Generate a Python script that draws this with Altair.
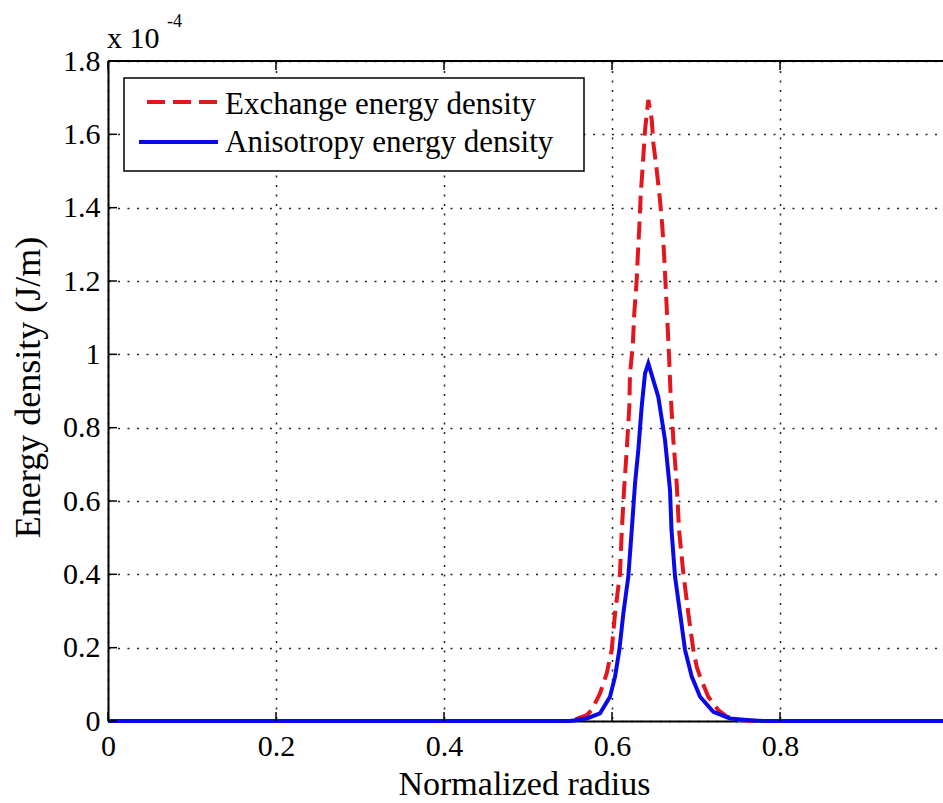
import altair as alt
import pandas as pd

# ---------------- data ----------------
series_names = ["Exchange energy density", "Anisotropy energy density"]

exchange_x = [0.0, 0.550, 0.5699, 0.5758, 0.5857, 0.5937, 0.5996, 0.6036, 0.6095, 0.6115,
              0.6143, 0.6175, 0.6206, 0.6214, 0.6246, 0.6265, 0.6294, 0.6306, 0.6325, 0.6342,
              0.6365, 0.6393, 0.6432, 0.6473, 0.6492, 0.6532, 0.6571, 0.6599, 0.6619, 0.6639,
              0.6658, 0.6679, 0.6695, 0.6730, 0.6770, 0.6798, 0.6849, 0.6908, 0.6968, 0.7008,
              0.7048, 0.7146, 0.7265, 0.7365, 0.7524, 0.770, 1.0]
exchange_y = [0.0, 0.0, 0.016, 0.030, 0.075, 0.130, 0.194, 0.294, 0.403, 0.512,
              0.630, 0.739, 0.857, 0.948, 1.021, 1.112, 1.203, 1.266, 1.348, 1.439,
              1.512, 1.612, 1.694, 1.639, 1.576, 1.503, 1.421, 1.348, 1.275, 1.184,
              1.094, 0.994, 0.903, 0.766, 0.648, 0.521, 0.403, 0.294, 0.194, 0.148,
              0.121, 0.066, 0.030, 0.012, 0.002, 0.0, 0.0]

aniso_x = [0.0, 0.550, 0.5699, 0.5857, 0.5976, 0.6036, 0.6087, 0.6135, 0.6194, 0.6235,
           0.6274, 0.6313, 0.6353, 0.6393, 0.6432, 0.6551, 0.6631, 0.6690, 0.6708, 0.6750,
           0.6810, 0.6869, 0.6949, 0.7048, 0.7206, 0.7405, 0.7604, 0.780, 1.0]
aniso_y = [0.0, 0.0, 0.007, 0.021, 0.066, 0.121, 0.194, 0.294, 0.394, 0.521,
           0.648, 0.739, 0.857, 0.948, 0.975, 0.884, 0.766, 0.630, 0.521, 0.394,
           0.294, 0.194, 0.121, 0.066, 0.025, 0.007, 0.003, 0.0, 0.0]

x_ticks = [0, 0.2, 0.4, 0.6, 0.8]
y_ticks = [0, 0.2, 0.4, 0.6, 0.8, 1.0, 1.2, 1.4, 1.6, 1.8]
x_domain = [0, 0.994]
y_domain = [0, 1.8]

# ---------------- styling ----------------
W, H = 835, 660
FONT = "Liberation Serif"
RED = "#e3161e"
BLUE = "#0a0ae8"
DASH = [18, 8]

ex_df = pd.DataFrame({"r": exchange_x, "e": exchange_y})
an_df = pd.DataFrame({"r": aniso_x, "e": aniso_y})
xt_df = pd.DataFrame({"r": x_ticks})
yt_df = pd.DataFrame({"e": y_ticks})
one = pd.DataFrame({"k": [0]})

xscale = alt.Scale(domain=x_domain, nice=False, zero=False)
yscale = alt.Scale(domain=y_domain, nice=False, zero=False)

x_axis = alt.Axis(
    values=x_ticks, format=".1~f", ticks=False, labelFlush=False, labelOverlap=False,
    labelFont=FONT, labelFontSize=30, labelColor="black", labelPadding=10,
    domainColor="black", domainWidth=2,
    grid=True, gridDash=[2, 7.5], gridColor="#222222", gridWidth=1.5,
    title="Normalized radius", titleFont=FONT, titleFontSize=34, titleFontWeight="normal",
    titleColor="black", titleBaseline="alphabetic", titleAlign="center", titleX=416, titleY=73,
)
y_axis = alt.Axis(
    values=y_ticks, format=".1~f", ticks=False, labelFlush=False, labelOverlap=False,
    labelFont=FONT, labelFontSize=30, labelColor="black", labelPadding=8,
    domainColor="black", domainWidth=2,
    grid=True, gridDash=[2, 7.5], gridColor="#222222", gridWidth=1.5,
    title="Energy density (J/m)", titleFont=FONT, titleFontSize=36, titleFontWeight="normal",
    titleColor="black", titleBaseline="alphabetic", titleAlign="center", titleAngle=270,
    titleX=-69, titleY=326,
)

X = alt.X("r:Q", scale=xscale, axis=x_axis)
Y = alt.Y("e:Q", scale=yscale, axis=y_axis)

red = alt.Chart(ex_df).mark_line(color=RED, strokeWidth=4, strokeDash=DASH).encode(x=X, y=Y)
blue = alt.Chart(an_df).mark_line(color=BLUE, strokeWidth=4).encode(x=X, y=Y)

top_border = alt.Chart(one).mark_rule(color="black", strokeWidth=2).encode(
    x=alt.value(0), x2=alt.value(W), y=alt.value(0))
top_ticks = alt.Chart(xt_df).mark_rule(color="black", strokeWidth=1.5).encode(
    x=X, y=alt.value(0), y2=alt.value(9))
bottom_ticks = alt.Chart(xt_df).mark_rule(color="black", strokeWidth=1.5).encode(
    x=X, y=alt.value(H), y2=alt.value(H - 9))
left_ticks = alt.Chart(yt_df).mark_rule(color="black", strokeWidth=1.5).encode(
    y=Y, x=alt.value(0), x2=alt.value(9))

# legend (drawn as a box like MATLAB's)
leg_box = alt.Chart(one).mark_rect(fill="white", stroke="black", strokeWidth=1.5).encode(
    x=alt.value(16), x2=alt.value(476), y=alt.value(17), y2=alt.value(110))
leg_red = alt.Chart(one).mark_rule(color=RED, strokeWidth=4, strokeDash=DASH, strokeDashOffset=18).encode(
    x=alt.value(31), x2=alt.value(110), y=alt.value(41))
leg_blue = alt.Chart(one).mark_rule(color=BLUE, strokeWidth=4).encode(
    x=alt.value(31), x2=alt.value(110), y=alt.value(81))
leg_t1 = alt.Chart(one).mark_text(align="left", baseline="alphabetic", font=FONT, fontSize=31, color="black").encode(
    x=alt.value(117), y=alt.value(53), text=alt.value(series_names[0]))
leg_t2 = alt.Chart(one).mark_text(align="left", baseline="alphabetic", font=FONT, fontSize=31, color="black").encode(
    x=alt.value(117), y=alt.value(91), text=alt.value(series_names[1]))

# exponent label
exp_base = alt.Chart(one).mark_text(align="left", baseline="alphabetic", font=FONT, fontSize=30, color="black").encode(
    x=alt.value(-1), y=alt.value(-13), text=alt.value("x 10"))
exp_pow = alt.Chart(one).mark_text(align="left", baseline="alphabetic", font=FONT, fontSize=18, color="black").encode(
    x=alt.value(59), y=alt.value(-34), text=alt.value("-4"))

chart = alt.layer(
    red, blue, top_border, top_ticks, bottom_ticks, left_ticks,
    leg_box, leg_red, leg_blue, leg_t1, leg_t2, exp_base, exp_pow,
).properties(
    width=W, height=H,
    padding={"left": 108, "top": 61, "right": 0, "bottom": 82},
    autosize=alt.AutoSizeParams(type="none"),
    background="white",
).configure_view(stroke=None)

chart.save("out.html", embed_options={"renderer": "svg", "actions": False})
